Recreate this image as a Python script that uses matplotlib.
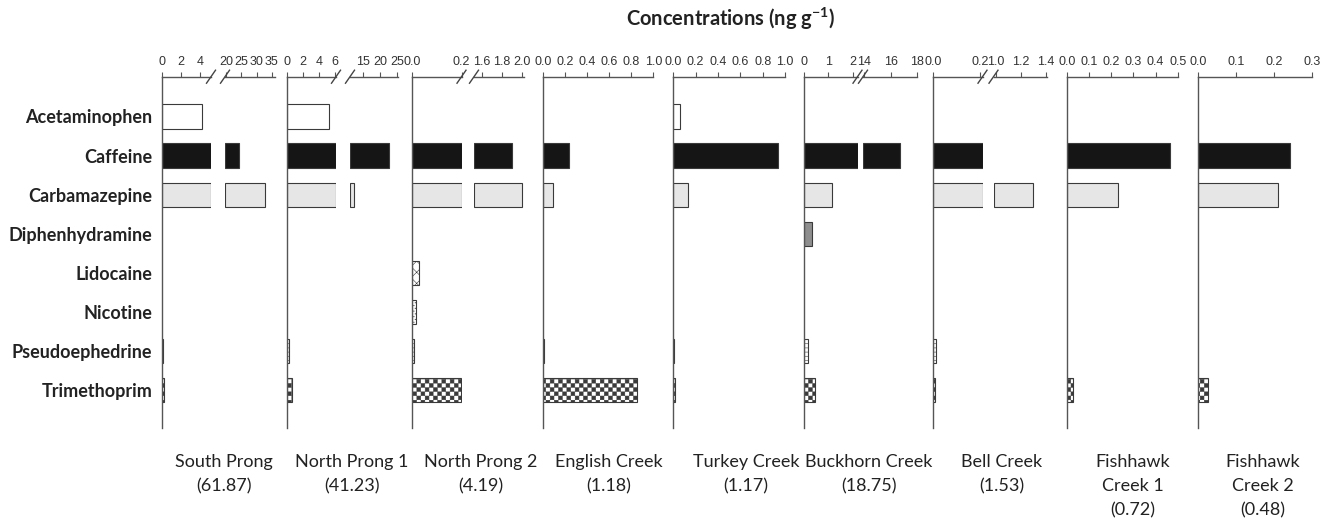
"""
Pharmaceutical concentrations in sediment by site, drawn as panels of
horizontal bars with broken x axes where the range is wide.
"""

import numpy as np
import matplotlib
matplotlib.use("Agg")
import matplotlib.pyplot as plt
import matplotlib.hatch as mhatch
from matplotlib.path import Path
from matplotlib.lines import Line2D

W, H = 1331, 520

COMPOUNDS = ["Acetaminophen", "Caffeine", "Carbamazepine", "Diphenhydramine",
             "Lidocaine", "Nicotine", "Pseudoephedrine", "Trimethoprim"]
SITES = ["South Prong", "North Prong 1", "North Prong 2", "English Creek",
         "Turkey Creek", "Buckhorn Creek", "Bell Creek",
         "Fishhawk\nCreek 1", "Fishhawk\nCreek 2"]
TOTALS = ["61.87", "41.23", "4.19", "1.18", "1.17", "18.75", "1.53", "0.72", "0.48"]

# ng/g, one value per site (same order as SITES)
ACETAMINOPHEN   = [4.2, 5.2, 0, 0, 0.06, 0, 0, 0, 0]
CAFFEINE        = [24.4, 22.8, 1.90, 0.24, 0.94, 16.7, 0.21, 0.465, 0.243]
CARBAMAZEPINE   = [32.9, 12.3, 2.00, 0.09, 0.13, 1.15, 1.30, 0.233, 0.210]
DIPHENHYDRAMINE = [0, 0, 0, 0, 0, 0.34, 0, 0, 0]
LIDOCAINE       = [0, 0, 0.028, 0, 0, 0, 0, 0, 0]
NICOTINE        = [0, 0, 0.018, 0, 0, 0, 0, 0, 0]
PSEUDOEPHEDRINE = [0.15, 0.2, 0.01, 0.009, 0.01, 0.15, 0.013, 0, 0]
TRIMETHOPRIM    = [0.2, 0.66, 0.196, 0.85, 0.018, 0.44, 0.009, 0.027, 0.026]

VALUES = np.array([ACETAMINOPHEN, CAFFEINE, CARBAMAZEPINE, DIPHENHYDRAMINE,
                   LIDOCAINE, NICOTINE, PSEUDOEPHEDRINE, TRIMETHOPRIM])

# x-axis segments per site: (limits, ticks, label format, pixel extent)
PANELS = [
    [((0, 5.1), [0, 2, 4], "{:g}", (162, 211)),
     ((19.7, 36), [20, 25, 30, 35], "{:g}", (225, 275))],
    [((0, 6.1), [0, 2, 4, 6], "{:g}", (287, 336)),
     ((11.2, 25.3), [15, 20, 25], "{:g}", (350, 398))],
    [((0, 0.2), [0, 0.2], "{:.1f}", (411.7, 461.5)),
     ((1.52, 2.02), [1.6, 1.8, 2.0], "{:.1f}", (474, 524))],
    [((0, 1.0), [0, 0.2, 0.4, 0.6, 0.8, 1.0], "{:.1f}", (542.7, 653.3))],
    [((0, 1.0), [0, 0.2, 0.4, 0.6, 0.8, 1.0], "{:.1f}", (673.3, 785))],
    [((0, 2.2), [0, 1, 2], "{:g}", (804, 857.5)),
     ((13.9, 18.0), [14, 16, 18], "{:g}", (863, 917))],
    [((0, 0.21), [0, 0.2], "{:.1f}", (933, 982.5)),
     ((0.98, 1.41), [1.0, 1.2, 1.4], "{:.1f}", (993.5, 1047))],
    [((0, 0.5), [0, 0.1, 0.2, 0.3, 0.4, 0.5], "{:.1f}", (1066.7, 1177.7))],
    [((0, 0.3), [0, 0.1, 0.2, 0.3], "{:.1f}", (1198.3, 1311.7))],
]
LABEL_X = [224, 352, 481, 609, 746, 869, 1002, 1133, 1263]


# checkerboard hatch, hooked onto the '*' symbol
class CheckerHatch(mhatch.HatchPatternBase):
    def __init__(self, hatch, density):
        self.n = hatch.count("*") * density
        self.num_vertices = (self.n * self.n // 2) * 5

    def set_vertices_and_codes(self, vertices, codes):
        s = 1.0 / self.n
        sq = np.array([[0, 0], [1, 0], [1, 1], [0, 1], [0, 0]]) * s * 0.9 + s * 0.05
        parts = [sq + [i * s, j * s] for i in range(self.n)
                 for j in range(self.n) if (i + j) % 2 == 0]
        vertices[:] = np.concatenate(parts)
        codes[:] = np.tile([Path.MOVETO, Path.LINETO, Path.LINETO,
                            Path.LINETO, Path.CLOSEPOLY], len(parts))


mhatch._hatch_types[mhatch._hatch_types.index(mhatch.Stars)] = CheckerHatch

plt.rcParams["hatch.linewidth"] = 0.4
plt.rcParams["mathtext.fontset"] = "custom"
plt.rcParams["mathtext.rm"] = "Lato"
plt.rcParams["mathtext.bf"] = "Lato:bold"

EDGE = "#3a3a3a"
STYLES = [
    dict(color="white", hatch=None),
    dict(color="#151515", hatch=None),
    dict(color="#e6e6e6", hatch=None),
    dict(color="#8e8e8e", hatch=None),
    dict(color="white", hatch="xxx"),
    dict(color="white", hatch="......"),
    dict(color="white", hatch="----"),
    dict(color="white", hatch="****"),
]

Y_TOP, Y_BOT = 76.7, 428
CAT0, STEP = 116.5, 39.1
YLIM = ((Y_BOT - CAT0) / STEP, (Y_TOP - CAT0) / STEP)

fig = plt.figure(figsize=(W / 100, H / 100), dpi=100)


def rect(x0, x1):
    return [x0 / W, 1 - Y_BOT / H, (x1 - x0) / W, (Y_BOT - Y_TOP) / H]


def slash(x):
    fig.add_artist(Line2D([(x - 4.5) / W, (x + 4.5) / W],
                          [1 - (Y_TOP + 6.5) / H, 1 - (Y_TOP - 6.5) / H],
                          transform=fig.transFigure, color="#444", lw=1.0))


ypos = np.arange(len(COMPOUNDS))
for p, segs in enumerate(PANELS):
    for s, (lim, ticks, fmt, (x0, x1)) in enumerate(segs):
        ax = fig.add_axes(rect(x0, x1))
        ax.set_xlim(lim)
        ax.set_ylim(YLIM)
        for c in range(len(COMPOUNDS)):
            v = VALUES[c, p]
            if v <= lim[0]:
                continue
            ax.barh(ypos[c], min(v, lim[1]) - lim[0], left=lim[0], height=0.62,
                    facecolor=STYLES[c]["color"], hatch=STYLES[c]["hatch"],
                    edgecolor=EDGE, linewidth=0.8)
        for side in ("right", "bottom"):
            ax.spines[side].set_visible(False)
        ax.spines["left"].set_visible(s == 0)
        for side in ("left", "top"):
            ax.spines[side].set_color("#555")
            ax.spines[side].set_linewidth(1.0)
        ax.xaxis.tick_top()
        ax.set_xticks(ticks)
        ax.set_xticklabels([fmt.format(t) for t in ticks])
        ax.tick_params(axis="x", direction="out", length=3.6, width=0.8,
                       color="#555", labelsize=9, pad=2.5, labelcolor="#333")
        for lab in ax.get_xticklabels():
            lab.set_family("Liberation Sans")
        if p == 0 and s == 0:
            ax.set_yticks(ypos)
            ax.set_yticklabels(COMPOUNDS, fontsize=13, fontweight="bold",
                               family="Lato", color="#222")
            ax.tick_params(axis="y", length=0, pad=7)
        else:
            ax.set_yticks([])
        ax.patch.set_visible(False)
        if len(segs) > 1:
            slash(x1 if s == 0 else x0)

for x, site, total in zip(LABEL_X, SITES, TOTALS):
    fig.text(x / W, 1 - 454 / H, f"{site}\n({total})", ha="center", va="top",
             fontsize=13, family="Lato", color="#222", linespacing=1.62)

fig.text(731 / W, 1 - 19 / H, r"Concentrations (ng g$^{\mathbf{-1}}$)",
         ha="center", va="center", fontsize=14.5, fontweight="bold",
         family="Lato", color="#222")

fig.savefig("out.png", dpi=100)
